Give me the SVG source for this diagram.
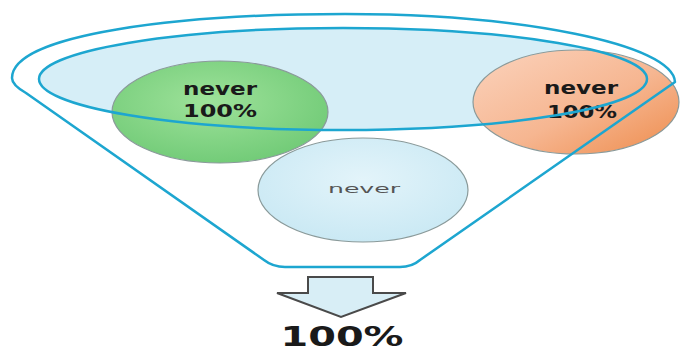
<svg xmlns="http://www.w3.org/2000/svg" width="680" height="353" viewBox="0 0 680 353">
  <defs>
    <radialGradient id="gGreen" cx="0.45" cy="0.4" r="0.7">
      <stop offset="0" stop-color="#9ee29a"/>
      <stop offset="1" stop-color="#6cc873"/>
    </radialGradient>
    <linearGradient id="gOrange" x1="0" y1="0" x2="1" y2="1">
      <stop offset="0" stop-color="#fbd3bd"/>
      <stop offset="0.55" stop-color="#f6b691"/>
      <stop offset="1" stop-color="#ee8c4c"/>
    </linearGradient>
    <radialGradient id="gBlue" cx="0.5" cy="0.4" r="0.7">
      <stop offset="0" stop-color="#e3f4fa"/>
      <stop offset="1" stop-color="#c6e7f3"/>
    </radialGradient>
    <path id="funnelShape" d="M 12,78 C 12,34 180,14 345,14 C 520,14 673,44 675,82 L 420,260 Q 412,267 400,267 L 285,267 Q 273,267 264,260 L 26,93 Q 12,85 12,78 Z"/>
    <style>
      .funnelfill { fill: #ffffff; }
      .funnelline { fill: none; stroke: #1da6d0; stroke-width: 2.5; stroke-linejoin: round; }
      .topfill { fill: #d6eef7; }
      .topline { fill: none; stroke: #1da6d0; stroke-width: 2.5; }
      .node { stroke: #8a9a9a; stroke-width: 1.2; }
      .bold { font-family: "DejaVu Sans", Verdana, sans-serif; font-weight: bold; fill: #1a1a1a; text-anchor: middle; }
      .plain { font-family: "DejaVu Sans", Verdana, sans-serif; fill: #555555; text-anchor: middle; }
      .arrow { fill: #d8eef6; stroke: #4a4a4a; stroke-width: 2; stroke-linejoin: miter; }
    </style>
  </defs>
  <rect width="680" height="353" fill="#ffffff"/>

  <g id="funnel">
    <use href="#funnelShape" class="funnelfill"/>
    <ellipse class="topfill" cx="343" cy="79" rx="304" ry="51"/>
  </g>

  <g id="node-green">
    <ellipse class="node" cx="220" cy="112" rx="108" ry="51" fill="url(#gGreen)"/>
    <text class="bold" x="220" y="95" font-size="17" textLength="74" lengthAdjust="spacingAndGlyphs">never</text>
    <text class="bold" x="220" y="117" font-size="17" textLength="74" lengthAdjust="spacingAndGlyphs">100%</text>
  </g>

  <g id="node-orange">
    <ellipse class="node" cx="576" cy="102" rx="103" ry="52" fill="url(#gOrange)" stroke="#333"/>
    <text class="bold" x="581" y="94" font-size="17" textLength="74" lengthAdjust="spacingAndGlyphs">never</text>
    <text class="bold" x="582" y="118" font-size="17" textLength="70" lengthAdjust="spacingAndGlyphs">100%</text>
  </g>

  <g id="node-blue">
    <ellipse class="node" cx="363" cy="190" rx="105" ry="52" fill="url(#gBlue)" stroke="#b8c8cc"/>
    <text class="plain" x="364" y="193" font-size="13" textLength="72" lengthAdjust="spacingAndGlyphs">never</text>
  </g>

  <g id="outlines">
    <ellipse class="topline" cx="343" cy="79" rx="304" ry="51"/>
    <use href="#funnelShape" class="funnelline"/>
  </g>

  <g id="connectors">
    <polygon class="arrow" points="308,277 373,277 373,293 406,293 341,317 277,293 308,293"/>
  </g>

  <g id="result">
    <text class="bold" x="342" y="346" font-size="27" textLength="123" lengthAdjust="spacingAndGlyphs">100%</text>
  </g>
</svg>
